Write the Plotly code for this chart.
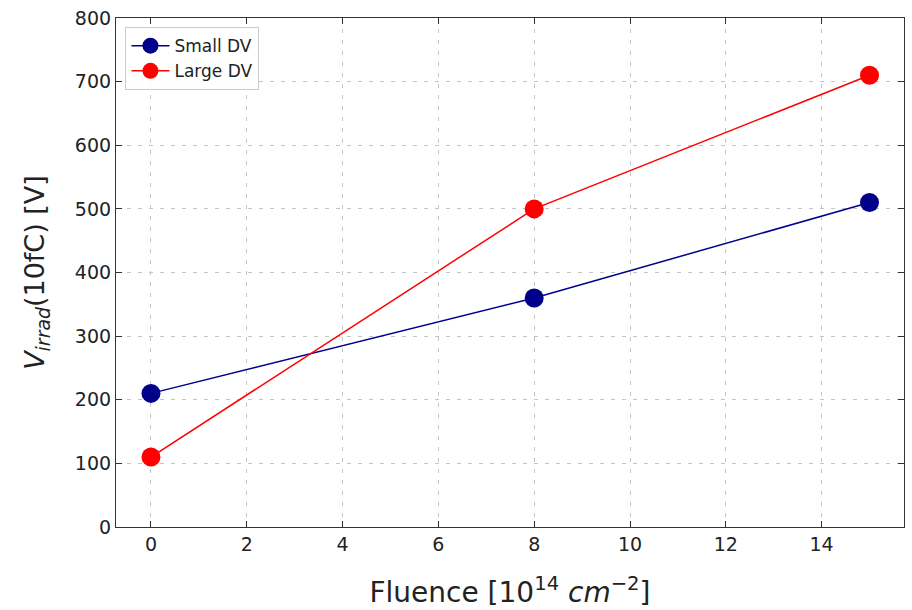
import plotly.graph_objects as go

fluence = [0, 8, 15]
small_dv = [210, 360, 510]
large_dv = [110, 500, 710]
x_ticks = [0, 2, 4, 6, 8, 10, 12, 14]
y_ticks = [0, 100, 200, 300, 400, 500, 600, 700, 800]

font = "DejaVu Sans, sans-serif"

fig = go.Figure()
fig.add_trace(go.Scatter(x=fluence, y=small_dv, mode="lines+markers", name="Small DV",
                         line=dict(color="#00008B", width=1.5),
                         marker=dict(color="#00008B", size=19)))
fig.add_trace(go.Scatter(x=fluence, y=large_dv, mode="lines+markers", name="Large DV",
                         line=dict(color="#FF0000", width=1.5),
                         marker=dict(color="#FF0000", size=19)))

axis_common = dict(showline=True, linecolor="#333", linewidth=1.2, mirror="allticks",
                   ticks="inside", ticklen=6, tickwidth=1.2, tickcolor="#333",
                   showgrid=True, gridcolor="#c4c4c4", griddash="4px,7px", gridwidth=1,
                   zeroline=False, tickfont=dict(family=font, size=19, color="#222"))

fig.update_xaxes(range=[-0.73, 15.72], tickvals=x_ticks,
                 title=dict(text="Fluence [10<sup>14</sup> <i>cm</i><sup>−2</sup>]",
                            font=dict(family=font, size=28, color="#222"), standoff=28),
                 **axis_common)
fig.update_yaxes(range=[0, 800], tickvals=y_ticks,
                 title=dict(text="<i>V</i><sub><i>irrad</i></sub>(10fC) [V]",
                            font=dict(family=font, size=27, color="#222"), standoff=22),
                 **axis_common)

fig.update_layout(
    width=912, height=610,
    margin=dict(l=116, r=7, t=13, b=83),
    plot_bgcolor="white", paper_bgcolor="white",
    font=dict(family=font),
    legend=dict(x=0.012, y=0.982, xanchor="left", yanchor="top",
                bgcolor="rgba(255,255,255,0.9)", bordercolor="#cccccc", borderwidth=1,
                font=dict(family=font, size=17, color="#222"), itemsizing="trace",
                itemwidth=38, tracegroupgap=0),
    showlegend=True,
)

fig.write_html("out.html")
